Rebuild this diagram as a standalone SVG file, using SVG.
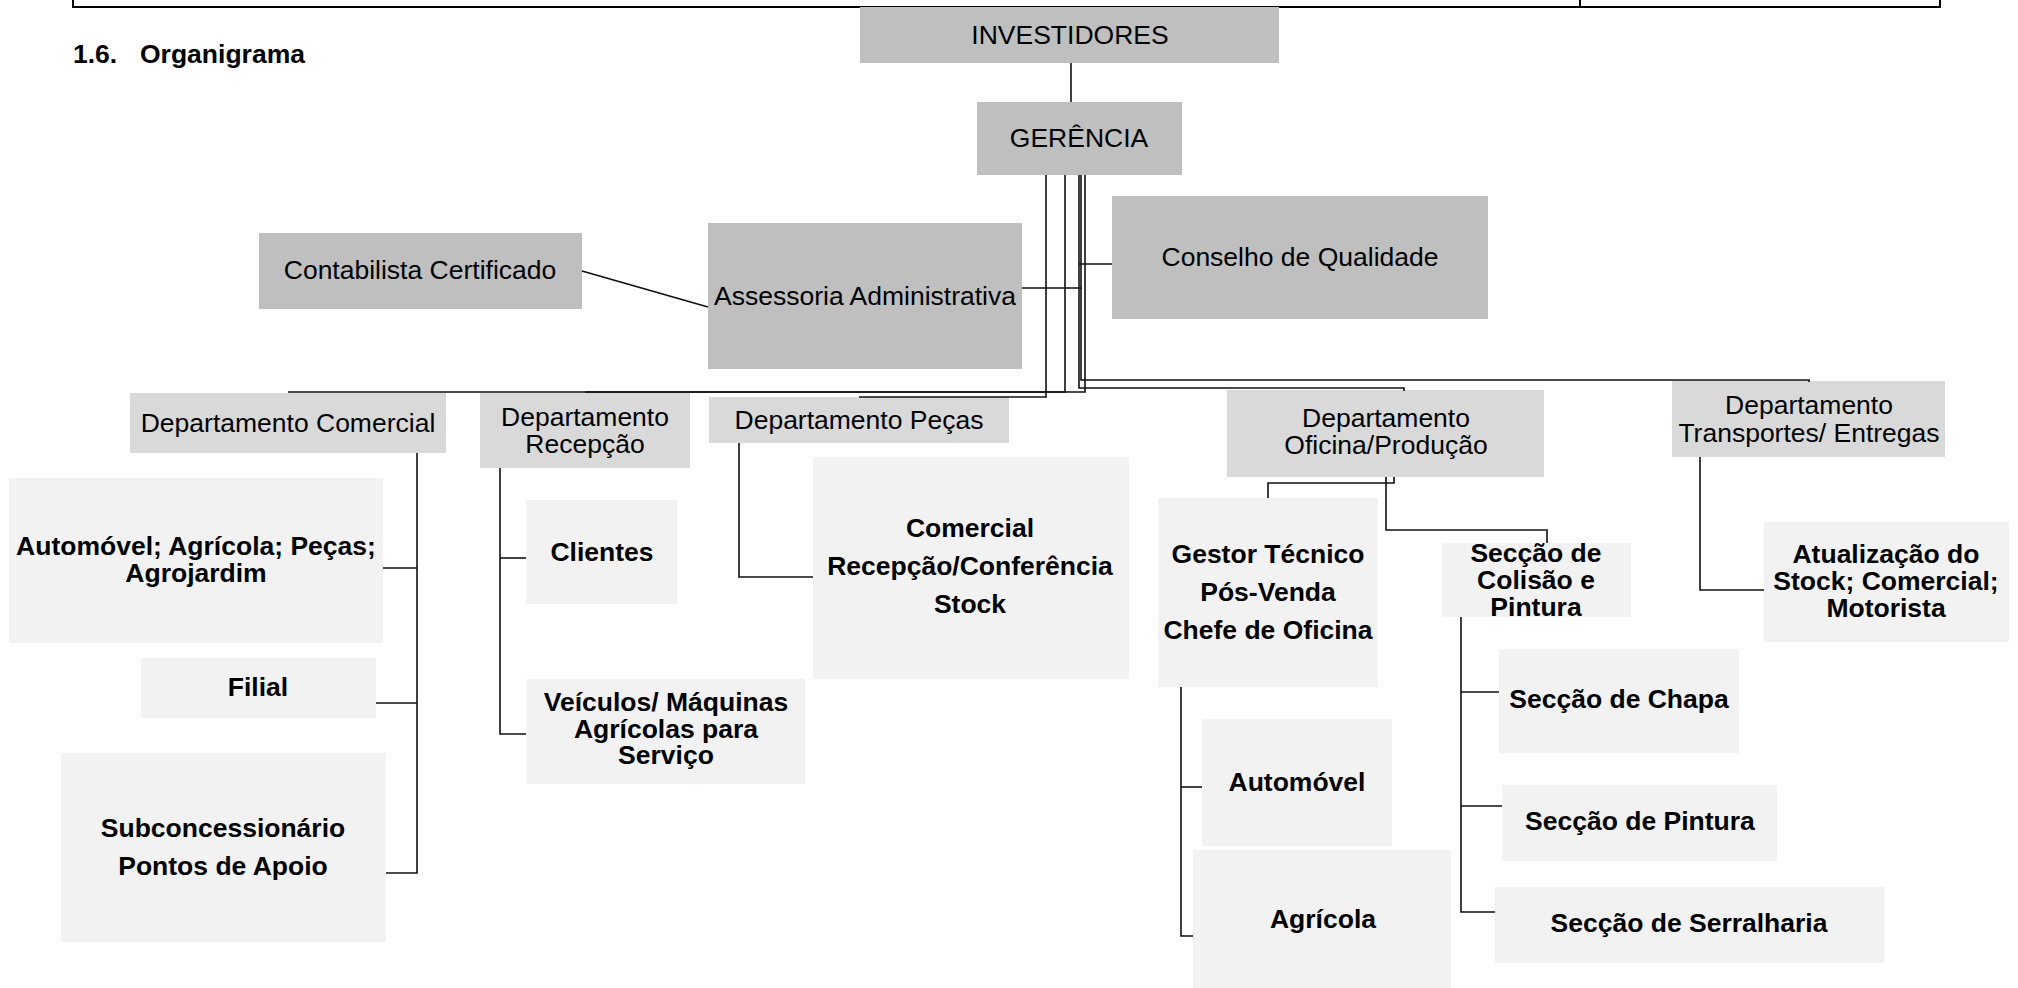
<svg xmlns="http://www.w3.org/2000/svg" width="2018" height="988" viewBox="0 0 2018 988">
  <style>
    .top { fill: #bfbfbf; }
    .dept { fill: #d9d9d9; }
    .leaf { fill: #f2f2f2; }
    text { font-family: "Liberation Sans", Arial, sans-serif; font-size: 26.5px; fill: #000; text-anchor: middle; }
    .b { font-weight: bold; }
    .frame { fill: none; stroke: #000; stroke-width: 2; }
    .conn path { fill: none; stroke: #111; stroke-width: 1.6; }
  </style>

  <!-- page frame remnant and heading -->
  <g id="page">
    <path class="frame" d="M73,-2 V7 H1940 V-2 M1580,-2 V7"/>
    <text class="b" x="73" y="63" style="text-anchor:start">1.6.</text>
    <text class="b" x="140" y="63" style="text-anchor:start">Organigrama</text>
  </g>

  <!-- top level -->
  <g id="investidores">
    <rect class="top" x="860" y="7" width="419" height="56"/>
    <text x="1070" y="44">INVESTIDORES</text>
  </g>
  <g id="gerencia">
    <rect class="top" x="977" y="102" width="205" height="73"/>
    <text x="1079" y="147">GERÊNCIA</text>
  </g>
  <g id="contabilista">
    <rect class="top" x="259" y="233" width="323" height="76"/>
    <text x="420" y="279">Contabilista Certificado</text>
  </g>
  <g id="assessoria">
    <rect class="top" x="708" y="223" width="314" height="146"/>
    <text x="865" y="305">Assessoria Administrativa</text>
  </g>
  <g id="conselho">
    <rect class="top" x="1112" y="196" width="376" height="123"/>
    <text x="1300" y="266">Conselho de Qualidade</text>
  </g>

  <!-- departments -->
  <g id="dep-comercial">
    <rect class="dept" x="130" y="393" width="316" height="60"/>
    <text x="288" y="432">Departamento Comercial</text>
  </g>
  <g id="dep-recepcao">
    <rect class="dept" x="480" y="393" width="210" height="75"/>
    <text x="585" y="426">Departamento</text>
    <text x="585" y="453">Recepção</text>
  </g>
  <g id="dep-pecas">
    <rect class="dept" x="709" y="397" width="300" height="46"/>
    <text x="859" y="429">Departamento Peças</text>
  </g>
  <g id="dep-oficina">
    <rect class="dept" x="1227" y="390" width="317" height="87"/>
    <text x="1386" y="427">Departamento</text>
    <text x="1386" y="454">Oficina/Produção</text>
  </g>
  <g id="dep-transportes">
    <rect class="dept" x="1672" y="381" width="273" height="76"/>
    <text x="1809" y="414">Departamento</text>
    <text x="1809" y="442">Transportes/ Entregas</text>
  </g>

  <!-- Departamento Comercial -->
  <g id="com-segmentos">
    <rect class="leaf" x="9" y="478" width="374" height="165"/>
    <text class="b" x="196" y="555">Automóvel; Agrícola; Peças;</text>
    <text class="b" x="196" y="582">Agrojardim</text>
  </g>
  <g id="com-filial">
    <rect class="leaf" x="141" y="658" width="235" height="60"/>
    <text class="b" x="258" y="696">Filial</text>
  </g>
  <g id="com-sub">
    <rect class="leaf" x="61" y="753" width="325" height="189"/>
    <text class="b" x="223" y="837">Subconcessionário</text>
    <text class="b" x="223" y="875">Pontos de Apoio</text>
  </g>

  <!-- Departamento Recepção -->
  <g id="rec-clientes">
    <rect class="leaf" x="526" y="500" width="151" height="104"/>
    <text class="b" x="602" y="561">Clientes</text>
  </g>
  <g id="rec-veiculos">
    <rect class="leaf" x="526" y="679" width="279" height="105"/>
    <text class="b" x="666" y="711">Veículos/ Máquinas</text>
    <text class="b" x="666" y="738">Agrícolas para</text>
    <text class="b" x="666" y="764">Serviço</text>
  </g>

  <!-- Departamento Peças -->
  <g id="pec-areas">
    <rect class="leaf" x="813" y="457" width="316" height="222"/>
    <text class="b" x="970" y="537">Comercial</text>
    <text class="b" x="970" y="575">Recepção/Conferência</text>
    <text class="b" x="970" y="613">Stock</text>
  </g>

  <!-- Departamento Oficina/Produção -->
  <g id="ofi-gestor">
    <rect class="leaf" x="1158" y="498" width="220" height="189"/>
    <text class="b" x="1268" y="563">Gestor Técnico</text>
    <text class="b" x="1268" y="601">Pós-Venda</text>
    <text class="b" x="1268" y="639">Chefe de Oficina</text>
  </g>
  <g id="ofi-automovel">
    <rect class="leaf" x="1202" y="719" width="190" height="127"/>
    <text class="b" x="1297" y="791">Automóvel</text>
  </g>
  <g id="ofi-agricola">
    <rect class="leaf" x="1193" y="850" width="258" height="138"/>
    <text class="b" x="1323" y="928">Agrícola</text>
  </g>
  <g id="ofi-colisao">
    <rect class="leaf" x="1442" y="543" width="189" height="74"/>
    <text class="b" x="1536" y="562">Secção de</text>
    <text class="b" x="1536" y="589">Colisão e</text>
    <text class="b" x="1536" y="616">Pintura</text>
  </g>
  <g id="col-chapa">
    <rect class="leaf" x="1499" y="649" width="240" height="104"/>
    <text class="b" x="1619" y="708">Secção de Chapa</text>
  </g>
  <g id="col-pintura">
    <rect class="leaf" x="1502" y="785" width="275" height="76"/>
    <text class="b" x="1640" y="830">Secção de Pintura</text>
  </g>
  <g id="col-serralharia">
    <rect class="leaf" x="1495" y="887" width="389" height="76"/>
    <text class="b" x="1689" y="932">Secção de Serralharia</text>
  </g>

  <!-- Departamento Transportes -->
  <g id="tra-funcoes">
    <rect class="leaf" x="1764" y="522" width="245" height="120"/>
    <text class="b" x="1886" y="563">Atualização do</text>
    <text class="b" x="1886" y="590">Stock; Comercial;</text>
    <text class="b" x="1886" y="617">Motorista</text>
  </g>

  <!-- connectors -->
  <g id="connectors" class="conn">
    <path d="M1071,63 V102"/>
    <path d="M582,271 L708,307"/>
    <path d="M1065,175 V392 H288"/>
    <path d="M1085,175 V392 H585"/>
    <path d="M1046,175 V397 H859"/>
    <path d="M1081,175 V288 H1022"/>
    <path d="M1079,175 V388 H1404 V391"/>
    <path d="M1079,264 H1112"/>
    <path d="M1081,288 V380 H1809 V382"/>
    <path d="M1394,477 V483 H1268 V498"/>
    <path d="M1386,477 V530 H1547 V543"/>
    <path d="M417,453 V873 H386"/>
    <path d="M383,568 H417"/>
    <path d="M376,703 H417"/>
    <path d="M500,468 V734 H526"/>
    <path d="M500,558 H526"/>
    <path d="M739,443 V577 H813"/>
    <path d="M1700,457 V590 H1764"/>
    <path d="M1181,687 V936 H1193"/>
    <path d="M1181,787 H1202"/>
    <path d="M1461,617 V912 H1495"/>
    <path d="M1461,692 H1499"/>
    <path d="M1461,806 H1502"/>
  </g>
</svg>
